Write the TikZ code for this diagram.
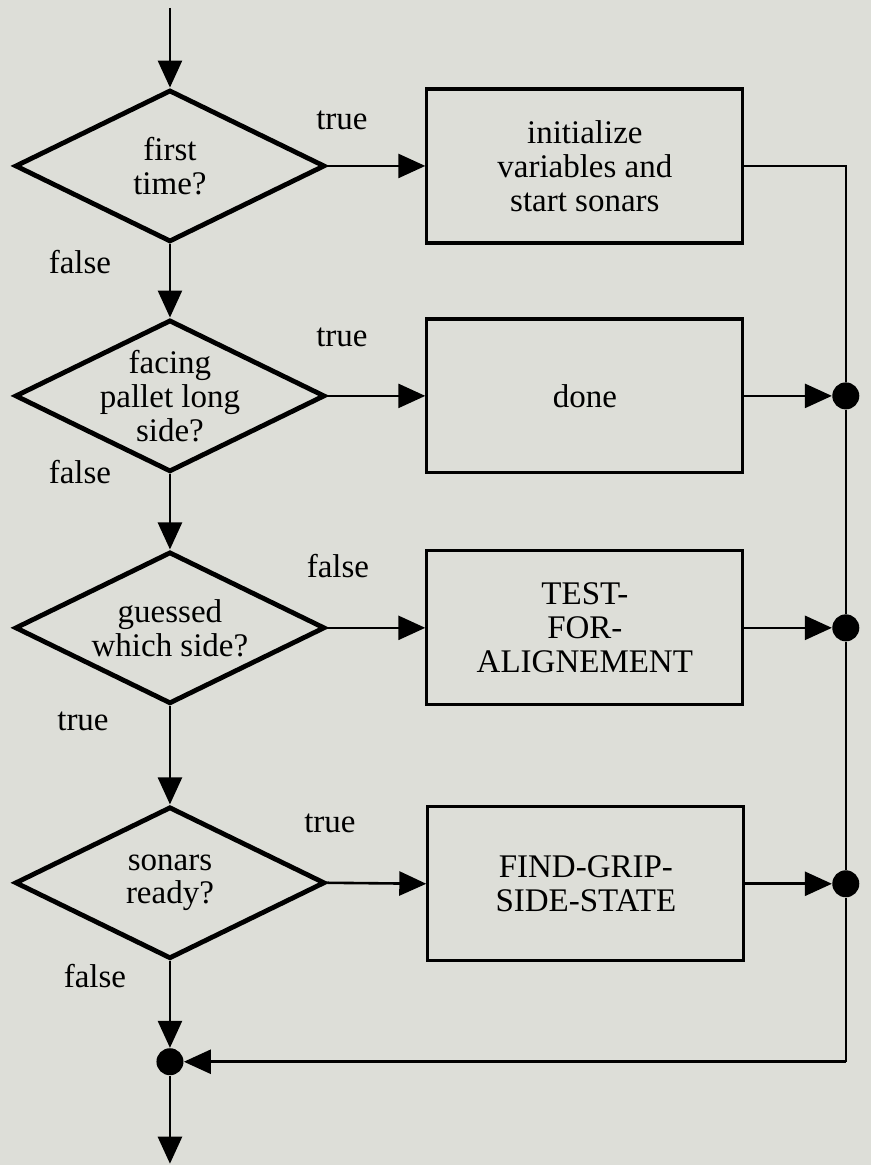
\documentclass[tikz,border=0pt]{standalone}
\usepackage{fontspec}
\setmainfont{Liberation Serif}
\usetikzlibrary{shapes.geometric,arrows.meta}
\definecolor{paper}{RGB}{221,222,216}
\begin{document}
\begin{tikzpicture}[x=0.5pt,y=-0.5pt,
  dia/.style={draw, line width=2.4pt, diamond, minimum width=155pt, minimum height=76pt, inner sep=0pt},
  box/.style={draw, line width=1.6pt, rectangle, minimum width=158pt, minimum height=77pt, inner sep=0pt},
  txt/.style={align=center, font=\fontsize{16.5}{17}\selectfont, inner sep=0pt},
  lbl/.style={font=\fontsize{16.5}{17}\selectfont, inner sep=0pt},
  jdot/.style={circle, fill=black, minimum size=13.5pt, inner sep=0pt},
  flow/.style={line width=1.3pt, -{Triangle[length=13.5pt,width=12pt]}},
  ret/.style={line width=1.1pt}]
\path[fill=paper] (0,0) rectangle (871,1165);

% decisions
\node[dia] (d1) at (170,166) {};
\node[txt] (t1) at (d1) {first\\time?};
\node[dia] (d2) at (170,396) {};
\node[txt] (t2) at (d2) {facing\\pallet long\\side?};
\node[dia] (d3) at (170,628) {};
\node[txt] (t3) at (d3) {guessed\\which side?};
\node[dia] (d4) at (170,883) {};
\node[txt] (t4) at (d4) {sonars\\ready?};

% actions
\node[box, txt] (b1) at (585,166) {initialize\\variables and\\start sonars};
\node[box, txt] (b2) at (585,396) {done};
\node[box, txt] (b3) at (585,628) {TEST-\\FOR-\\ALIGNEMENT};
\node[box, txt] (b4) at (586,884) {FIND-GRIP-\\SIDE-STATE};

% junction dots
\node[jdot] (r2) at (846,396) {};
\node[jdot] (r3) at (846,628) {};
\node[jdot] (r4) at (846,884) {};
\node[jdot] (j) at (170,1062) {};

\coordinate (top) at (170,8);
\coordinate (bot) at (170,1164);
\coordinate (c1) at (846,166);
\coordinate (c5) at (846,1062);

% labels
\node[lbl] (l1) at (342,120) {true};
\node[lbl] (l2) at (80,262) {false};
\node[lbl] (l3) at (342,337) {true};
\node[lbl] (l4) at (80,472) {false};
\node[lbl] (l5) at (338,566) {false};
\node[lbl] (l6) at (83,722) {true};
\node[lbl] (l7) at (330,824) {true};
\node[lbl] (l8) at (95,976) {false};

% vertical flow
\draw[flow] (top) -- (d1.north);
\draw[flow] (d1.south) -- (d2.north);
\draw[flow] (d2.south) -- (d3.north);
\draw[flow] (d3.south) -- (d4.north);
\draw[flow] (d4.south) -- (j.north);
\draw[flow] (j.south) -- (bot);

% horizontal flow
\draw[flow] (d1.east) -- (b1.west);
\draw[flow] (d2.east) -- (b2.west);
\draw[flow] (d3.east) -- (b3.west);
\draw[flow] (d4.east) -- (b4.west);
\draw[flow] (b2.east) -- (r2.west);
\draw[flow] (b3.east) -- (r3.west);
\draw[flow] (b4.east) -- (r4.west);

% return line
\draw[ret] (b1.east) -- (c1) -- (r2.north);
\draw[ret] (r2.south) -- (r3.north);
\draw[ret] (r3.south) -- (r4.north);
\draw[ret] (r4.south) -- (c5);
\draw[flow] (c5) -- (j.east);
\end{tikzpicture}
\end{document}
